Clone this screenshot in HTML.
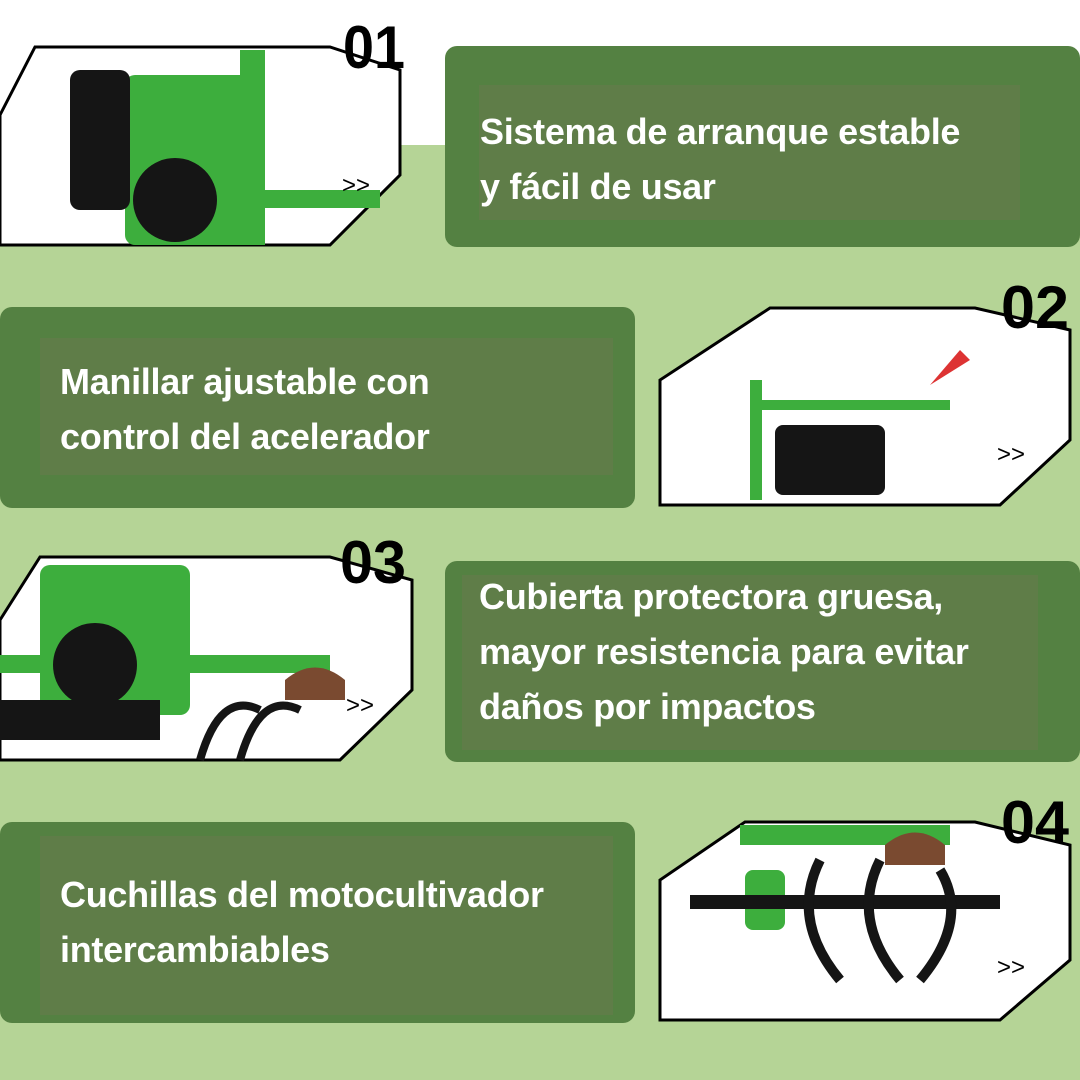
<!DOCTYPE html>
<html><head><meta charset="utf-8"><style>
body{margin:0;width:1080px;height:1080px;background:#b5d496;position:relative;overflow:hidden;font-family:"Liberation Sans",sans-serif}
.top{position:absolute;left:0;top:0;width:1080px;height:145px;background:#fff}
.card{position:absolute;background:#548142;border-radius:12px}
.inner{position:absolute;background:#5f7d48}
.t{position:absolute;color:#fff;font-weight:bold;font-size:36px;line-height:55px;white-space:nowrap;letter-spacing:-0.3px}
svg{position:absolute;left:0;top:0}
.n{font-family:"Liberation Sans",sans-serif;font-weight:bold;font-size:60px}
</style></head><body>
<div class="top"></div>
<div class="card" style="left:445px;top:46px;width:635px;height:201px"></div>
<div class="inner" style="left:479px;top:85px;width:541px;height:135px"></div>
<div class="t" style="left:480px;top:104px">Sistema de arranque estable<br>y fácil de usar</div>

<div class="card" style="left:0;top:307px;width:635px;height:201px"></div>
<div class="inner" style="left:40px;top:338px;width:573px;height:137px"></div>
<div class="t" style="left:60px;top:354px">Manillar ajustable con<br>control del acelerador</div>

<div class="card" style="left:445px;top:561px;width:635px;height:201px"></div>
<div class="inner" style="left:462px;top:575px;width:576px;height:175px"></div>
<div class="t" style="left:479px;top:569px">Cubierta protectora gruesa,<br>mayor resistencia para evitar<br>daños por impactos</div>

<div class="card" style="left:0;top:822px;width:635px;height:201px"></div>
<div class="inner" style="left:40px;top:836px;width:573px;height:179px"></div>
<div class="t" style="left:60px;top:867px">Cuchillas del motocultivador<br>intercambiables</div>

<svg width="1080" height="1080">
<g stroke="#000" stroke-width="3" fill="#fff">
<polygon points="35,47 330,47 400,70 400,175 330,245 0,245 0,115"/>
<polygon points="770,308 975,308 1070,330 1070,440 1000,505 660,505 660,380"/>
<polygon points="40,557 330,557 412,580 412,690 340,760 0,760 0,620"/>
<polygon points="745,822 975,822 1070,845 1070,960 1000,1020 660,1020 660,880"/>
</g>
<g fill="#3dae3d">
<rect x="125" y="75" width="135" height="170" rx="10"/>
<rect x="240" y="50" width="25" height="195"/>
<rect x="90" y="190" width="290" height="18"/>
<rect x="750" y="400" width="200" height="10"/>
<rect x="750" y="380" width="12" height="120"/>
<rect x="40" y="565" width="150" height="150" rx="10"/>
<rect x="0" y="655" width="330" height="18"/>
<rect x="740" y="825" width="210" height="20"/>
<rect x="745" y="870" width="40" height="60" rx="8"/>
</g>
<g fill="#151515">
<rect x="70" y="70" width="60" height="140" rx="10"/>
<circle cx="175" cy="200" r="42"/>
<rect x="775" y="425" width="110" height="70" rx="8"/>
<circle cx="95" cy="665" r="42"/>
<rect x="0" y="700" width="160" height="40"/>
<path d="M200 760 q20 -70 60 -50 M240 760 q20 -70 60 -50" stroke="#151515" stroke-width="8" fill="none"/>
<rect x="690" y="895" width="310" height="14"/>
<path d="M820 860 q-30 60 20 120 M880 860 q-30 60 20 120 M940 870 q30 50 -20 110" stroke="#151515" stroke-width="10" fill="none"/>
</g>
<path d="M930 385 l30 -35 l10 10 z" fill="#d33"/>
<path d="M285 680 q30 -25 60 0 l0 20 l-60 0z" fill="#7a4a30"/>
<path d="M885 845 q30 -25 60 0 l0 20 l-60 0z" fill="#7a4a30"/>
<g font-family="Liberation Sans" font-size="24" fill="#000">
<text x="342" y="193">&gt;&gt;</text>
<text x="997" y="462">&gt;&gt;</text>
<text x="346" y="713">&gt;&gt;</text>
<text x="997" y="975">&gt;&gt;</text>
</g>
<g class="n" fill="#000">
<text x="343" y="68" textLength="62" lengthAdjust="spacingAndGlyphs">01</text>
<text x="1001" y="328" textLength="68" lengthAdjust="spacingAndGlyphs">02</text>
<text x="340" y="583" textLength="66" lengthAdjust="spacingAndGlyphs">03</text>
<text x="1001" y="843" textLength="68" lengthAdjust="spacingAndGlyphs">04</text>
</g>
</svg>
</body></html>
